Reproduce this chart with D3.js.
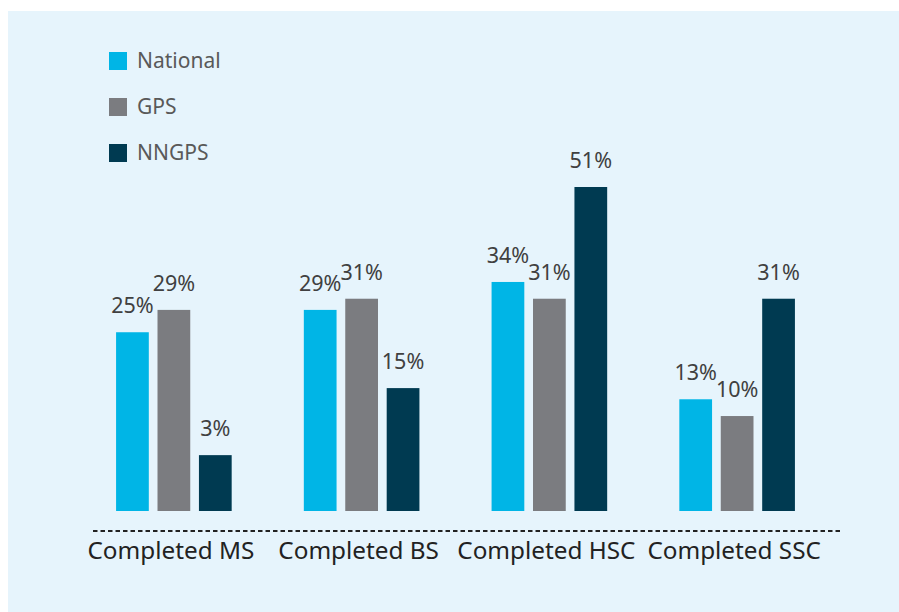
<!DOCTYPE html>
<html>
<head>
<meta charset="utf-8">
<script src="https://cdn.jsdelivr.net/npm/d3@7"></script>
<style>
  body { margin: 0; background: #fff; }
  svg { display: block; font-family: "Noto Sans", sans-serif; }
</style>
</head>
<body>
<svg id="chart" width="899" height="612"></svg>
<script>
// data
const categories = ["Completed MS", "Completed BS", "Completed HSC", "Completed SSC"]
const series = ["National", "GPS", "NNGPS"]
const national = [25, 29, 34, 13]
const gps = [29, 31, 31, 10]
const nngps = [3, 15, 51, 31]

const colors = ["#00b5e6", "#7b7c80", "#003a51"]
const values = [national, gps, nngps]

const svg = d3.select("#chart")

// light blue panel
svg.append("rect")
    .attr("x", 8).attr("y", 11)
    .attr("width", 891).attr("height", 601)
    .attr("fill", "#e6f4fc")

const baseY = 511

const x0 = d3.scaleBand()
    .domain(categories)
    .range([80, 831])

const x1 = d3.scaleBand()
    .domain(series)
    .range([x0.bandwidth() / 2 - 57.8, x0.bandwidth() / 2 + 57.8])
    .paddingInner(0.21)

// bars do not start from zero in the original, offset domain fits them
const y = d3.scaleLinear()
    .domain([-7, 51])
    .range([baseY, 187])

const groups = svg.selectAll("g.grp")
    .data(categories)
    .enter()
    .append("g")
    .attr("class", "grp")
    .attr("transform", d => `translate(${x0(d)},0)`)

series.forEach((s, si) => {
    groups.append("rect")
        .attr("x", x1(s))
        .attr("y", (d, i) => y(values[si][i]))
        .attr("width", x1.bandwidth())
        .attr("height", (d, i) => baseY - y(values[si][i]))
        .attr("fill", colors[si])

    groups.append("text")
        .attr("x", x1(s) + x1.bandwidth() / 2)
        .attr("y", (d, i) => y(values[si][i]) - 19)
        .attr("text-anchor", "middle")
        .attr("font-size", 21.5)
        .attr("fill", "#404040")
        .text((d, i) => values[si][i] + "%")
})

// dashed axis line
svg.append("line")
    .attr("x1", 93).attr("x2", 843)
    .attr("y1", 531).attr("y2", 531)
    .attr("stroke", "#222")
    .attr("stroke-width", 2)
    .attr("stroke-dasharray", "4.5,3")

// category labels
svg.selectAll("text.cat")
    .data(categories)
    .enter()
    .append("text")
    .attr("class", "cat")
    .attr("x", d => x0(d) + x0.bandwidth() / 2 - 3)
    .attr("y", 559)
    .attr("text-anchor", "middle")
    .attr("font-size", 24.3)
    .attr("fill", "#222")
    .text(d => d)

// legend
const legend = svg.selectAll("g.leg")
    .data(series)
    .enter()
    .append("g")
    .attr("class", "leg")
    .attr("transform", (d, i) => `translate(109,${52 + i * 46})`)

legend.append("rect")
    .attr("width", 18).attr("height", 18)
    .attr("fill", (d, i) => colors[i])

legend.append("text")
    .attr("x", 28)
    .attr("y", 16)
    .attr("font-size", 21)
    .attr("fill", "#595959")
    .text(d => d)
</script>
</body>
</html>
